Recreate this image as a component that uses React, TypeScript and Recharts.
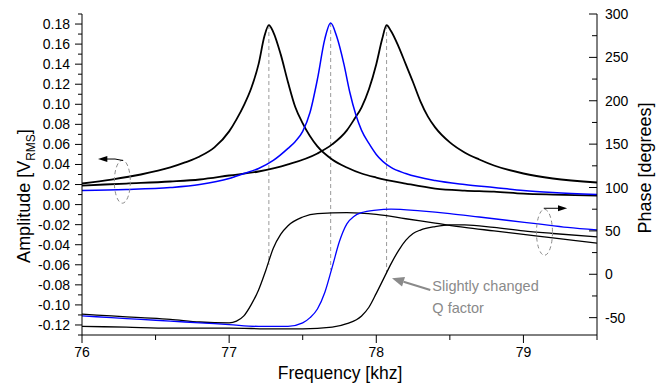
import React from 'react';
import { LineChart, Line, XAxis, YAxis, ReferenceLine, ReferenceDot } from 'recharts';

// ---------- Amplitude curves (left axis, V_RMS) ----------
const ampBlack1Freq = [76.0, 76.2, 76.4, 76.6, 76.7, 76.8, 76.9, 77.0, 77.05, 77.1, 77.15, 77.2, 77.24, 77.27, 77.3, 77.35, 77.4, 77.45, 77.5, 77.6, 77.7, 77.8, 77.9, 78.0, 78.2, 78.4, 78.6, 78.8, 79.0, 79.2, 79.5];
const ampBlack1Val = [0.021, 0.025, 0.03, 0.037, 0.042, 0.048, 0.057, 0.073, 0.085, 0.099, 0.116, 0.14, 0.168, 0.179, 0.172, 0.15, 0.122, 0.097, 0.081, 0.058, 0.045, 0.037, 0.031, 0.027, 0.021, 0.016, 0.014, 0.013, 0.011, 0.01, 0.009];

const ampBlueFreq = [76.0, 76.3, 76.6, 76.8, 77.0, 77.1, 77.2, 77.3, 77.4, 77.45, 77.5, 77.55, 77.6, 77.65, 77.69, 77.73, 77.78, 77.82, 77.86, 77.9, 77.95, 78.0, 78.1, 78.2, 78.4, 78.6, 78.8, 79.0, 79.2, 79.5];
const ampBlueVal = [0.014, 0.015, 0.017, 0.02, 0.026, 0.031, 0.036, 0.044, 0.056, 0.063, 0.073, 0.092, 0.125, 0.165, 0.181, 0.168, 0.14, 0.112, 0.09, 0.074, 0.061, 0.05, 0.037, 0.031, 0.024, 0.02, 0.017, 0.014, 0.012, 0.01];

const ampBlack2Freq = [76.0, 76.3, 76.6, 76.8, 77.0, 77.2, 77.4, 77.6, 77.7, 77.8, 77.85, 77.9, 77.95, 78.0, 78.04, 78.07, 78.1, 78.15, 78.2, 78.25, 78.3, 78.35, 78.4, 78.5, 78.6, 78.7, 78.8, 79.0, 79.2, 79.5];
const ampBlack2Val = [0.019, 0.021, 0.023, 0.025, 0.029, 0.033, 0.04, 0.051, 0.06, 0.074, 0.085, 0.097, 0.115, 0.14, 0.165, 0.179, 0.173, 0.158, 0.14, 0.122, 0.103, 0.088, 0.077, 0.062, 0.052, 0.045, 0.039, 0.031, 0.026, 0.022];

// ---------- Phase curves (right axis, degrees) ----------
const phBlack1Freq = [76.0, 76.2, 76.4, 76.6, 76.8, 77.0, 77.05, 77.1, 77.15, 77.2, 77.25, 77.3, 77.35, 77.4, 77.5, 77.6, 77.8, 78.0, 78.2, 78.4, 78.6, 78.8, 79.0, 79.2, 79.5];
const phBlack1Val = [-46, -48, -50, -52, -55, -56, -54, -48, -35, -18, 5, 30, 46, 56, 66, 70, 71, 69, 64, 59, 54, 50, 46, 42, 36];

const phBlueFreq = [76.0, 76.2, 76.4, 76.6, 76.8, 77.0, 77.2, 77.4, 77.5, 77.55, 77.6, 77.65, 77.7, 77.75, 77.8, 77.85, 77.9, 78.0, 78.1, 78.3, 78.5, 78.7, 78.9, 79.1, 79.3, 79.5];
const phBlueVal = [-48, -50, -52, -54, -56, -58, -60, -60, -56, -50, -40, -21, 8, 38, 58, 67, 71, 74, 75, 73, 70, 66, 62, 58, 54, 51];

const phBlack2Freq = [76.0, 76.3, 76.6, 77.0, 77.3, 77.5, 77.7, 77.8, 77.9, 77.95, 78.0, 78.05, 78.1, 78.15, 78.2, 78.25, 78.3, 78.4, 78.5, 78.6, 78.8, 79.0, 79.2, 79.5];
const phBlack2Val = [-60, -61, -62, -62, -63, -63, -61, -57, -48, -38, -22, -5, 12, 27, 39, 47, 51, 55, 57, 57, 54, 50, 47, 43];

// ---------- Resonance markers ----------
const peakFreqs = [77.27, 77.69, 78.07];
const peakTops = [0.179, 0.181, 0.179];
const peakBottoms = [-0.06, -0.065, -0.07];

// ---------- Ticks ----------
const xTicks = [76, 76.5, 77, 77.5, 78, 78.5, 79, 79.5];
const ampTicks = [-0.13, -0.12, -0.11, -0.1, -0.09, -0.08, -0.07, -0.06, -0.05, -0.04, -0.03, -0.02, -0.01, 0, 0.01, 0.02, 0.03, 0.04, 0.05, 0.06, 0.07, 0.08, 0.09, 0.1, 0.11, 0.12, 0.13, 0.14, 0.15, 0.16, 0.17, 0.18, 0.19];
const phaseTicks = [-50, -25, 0, 25, 50, 75, 100, 125, 150, 175, 200, 225, 250, 275, 300];

const zip = (f: number[], v: number[]) => f.map((x, i) => ({ x, y: v[i] }));

const ampBlack1 = zip(ampBlack1Freq, ampBlack1Val);
const ampBlue = zip(ampBlueFreq, ampBlueVal);
const ampBlack2 = zip(ampBlack2Freq, ampBlack2Val);
const phBlack1 = zip(phBlack1Freq, phBlack1Val);
const phBlue = zip(phBlueFreq, phBlueVal);
const phBlack2 = zip(phBlack2Freq, phBlack2Val);

const FONT = '"Liberation Sans", Arimo, Arial, sans-serif';
const BLUE = '#0000ff';
const GRAY = '#8a8a8a';

const XTick = (props: any) => {
  const { x, y, payload } = props;
  const v = payload.value;
  const major = Math.abs(v - Math.round(v)) < 1e-6;
  return (
    <g>
      <line x1={x} x2={x} y1={y} y2={y + (major ? 8 : 5)} stroke="#000" strokeWidth={1} />
      {major && (
        <text x={x} y={y + 22} textAnchor="middle" fontSize={14} fontFamily={FONT} fill="#000">
          {v}
        </text>
      )}
    </g>
  );
};

const LeftTick = (props: any) => {
  const { x, y, payload } = props;
  const v = payload.value;
  const major = Math.round(v * 100) % 2 === 0;
  return (
    <g>
      <line x1={x - (major ? 7 : 4)} x2={x} y1={y} y2={y} stroke="#000" strokeWidth={1} />
      {major && (
        <text x={x - 12} y={y + 5} textAnchor="end" fontSize={14} fontFamily={FONT} fill="#000">
          {v.toFixed(2)}
        </text>
      )}
    </g>
  );
};

const RightTick = (props: any) => {
  const { x, y, payload } = props;
  const v = payload.value;
  const major = v % 50 === 0;
  return (
    <g>
      <line x1={x} x2={x - (major ? 8 : 5)} y1={y} y2={y} stroke="#000" strokeWidth={1} />
      {major && (
        <text x={x + 8} y={y + 5} textAnchor="start" fontSize={14} fontFamily={FONT} fill="#000">
          {v}
        </text>
      )}
    </g>
  );
};

const LeftTitle = () => (
  <text transform="translate(30,196) rotate(-90)" textAnchor="middle" fontSize={18} fontFamily={FONT} fill="#000">
    Amplitude [V
    <tspan fontSize={12} dy={5}>RMS</tspan>
    <tspan dy={-5}>]</tspan>
  </text>
);

const RightTitle = () => (
  <text transform="translate(651,168) rotate(-90)" textAnchor="middle" fontSize={18} fontFamily={FONT} fill="#000">
    Phase [degrees]
  </text>
);

const BottomTitle = () => (
  <text x={340} y={379} textAnchor="middle" fontSize={17.5} fontFamily={FONT} fill="#000">
    Frequency [khz]
  </text>
);

const LeftMarker = (props: any) => {
  const { cx, cy } = props;
  return (
    <g>
      <ellipse cx={cx} cy={cy} rx={8} ry={21.5} fill="none" stroke={GRAY} strokeWidth={1} strokeDasharray="4 3" />
      <polyline points={`${cx + 0.7},${cy - 21.2} ${cx - 7.3},${cy - 22.7} ${cx - 16},${cy - 22.7}`} fill="none" stroke="#000" strokeWidth={1} />
      <polygon points={`${cx - 24.3},${cy - 22.7} ${cx - 15},${cy - 25.7} ${cx - 15},${cy - 19.7}`} fill="#000" />
    </g>
  );
};

const RightMarker = (props: any) => {
  const { cx, cy } = props;
  return (
    <g>
      <ellipse cx={cx} cy={cy} rx={8} ry={23} fill="none" stroke={GRAY} strokeWidth={1} strokeDasharray="4 3" />
      <line x1={cx - 0.7} y1={cy - 24} x2={cx + 14} y2={cy - 24} stroke="#000" strokeWidth={1} />
      <polygon points={`${cx + 22.7},${cy - 24} ${cx + 13.5},${cy - 27} ${cx + 13.5},${cy - 21}`} fill="#000" />
    </g>
  );
};

const QNote = (props: any) => {
  const { cx, cy } = props;
  return (
    <g>
      <line x1={cx + 38.3} y1={cy + 11.7} x2={cx + 11.5} y2={cy + 3.5} stroke={GRAY} strokeWidth={2} />
      <polygon points={`${cx},${cy} ${cx + 13},${cy - 1.3} ${cx + 10},${cy + 8.3}`} fill={GRAY} />
      <text x={cx + 40.3} y={cy + 12.7} fontSize={14.5} fontFamily={FONT} fill={GRAY}>
        Slightly changed
      </text>
      <text x={cx + 40.3} y={cy + 34.2} fontSize={14.5} fontFamily={FONT} fill={GRAY}>
        Q factor
      </text>
    </g>
  );
};

export default function App() {
  return (
    <div style={{ position: 'absolute', left: 0, top: 0, width: 667, height: 385, background: '#fff' }}>
      <LineChart width={667} height={385} margin={{ top: 14, right: 0, bottom: 0, left: 0 }}>
        <XAxis
          dataKey="x"
          type="number"
          domain={[76, 79.5]}
          allowDataOverflow
          ticks={xTicks}
          interval={0}
          tickSize={0}
          tickMargin={0}
          tickLine={false}
          tick={<XTick />}
          axisLine={{ stroke: '#000', strokeWidth: 1 }}
          height={50}
          label={<BottomTitle />}
        />
        <YAxis
          yAxisId="left"
          orientation="left"
          type="number"
          domain={[-0.13, 0.19]}
          allowDataOverflow
          ticks={ampTicks}
          interval={0}
          tickSize={0}
          tickMargin={0}
          tickLine={false}
          tick={<LeftTick />}
          axisLine={{ stroke: '#000', strokeWidth: 1 }}
          width={82}
          label={<LeftTitle />}
        />
        <YAxis
          yAxisId="right"
          orientation="right"
          type="number"
          domain={[-70, 300]}
          allowDataOverflow
          ticks={phaseTicks}
          interval={0}
          tickSize={0}
          tickMargin={0}
          tickLine={false}
          tick={<RightTick />}
          axisLine={{ stroke: '#000', strokeWidth: 1 }}
          width={70}
          label={<RightTitle />}
        />

        {peakFreqs.map((f, i) => (
          <ReferenceLine
            key={'pk' + i}
            yAxisId="left"
            segment={[{ x: f, y: peakTops[i] }, { x: f, y: peakBottoms[i] }]}
            stroke="#9a9a9a"
            strokeDasharray="4 3"
            strokeWidth={1}
          />
        ))}

        <Line yAxisId="right" data={phBlack2} dataKey="y" type="monotone" stroke="#000" strokeWidth={1.3} dot={false} isAnimationActive={false} />
        <Line yAxisId="right" data={phBlack1} dataKey="y" type="monotone" stroke="#000" strokeWidth={1.3} dot={false} isAnimationActive={false} />
        <Line yAxisId="right" data={phBlue} dataKey="y" type="monotone" stroke={BLUE} strokeWidth={1.3} dot={false} isAnimationActive={false} />

        <Line yAxisId="left" data={ampBlack1} dataKey="y" type="monotone" stroke="#000" strokeWidth={1.8} dot={false} isAnimationActive={false} />
        <Line yAxisId="left" data={ampBlack2} dataKey="y" type="monotone" stroke="#000" strokeWidth={1.8} dot={false} isAnimationActive={false} />
        <Line yAxisId="left" data={ampBlue} dataKey="y" type="monotone" stroke={BLUE} strokeWidth={1.5} dot={false} isAnimationActive={false} />

        <ReferenceDot yAxisId="left" x={76.274} y={0.0228} r={0} ifOverflow="visible" shape={<LeftMarker />} />
        <ReferenceDot yAxisId="right" x={79.143} y={48.4} r={0} ifOverflow="visible" shape={<RightMarker />} />
        <ReferenceDot yAxisId="left" x={78.107} y={-0.0735} r={0} ifOverflow="visible" shape={<QNote />} />
      </LineChart>
    </div>
  );
}
